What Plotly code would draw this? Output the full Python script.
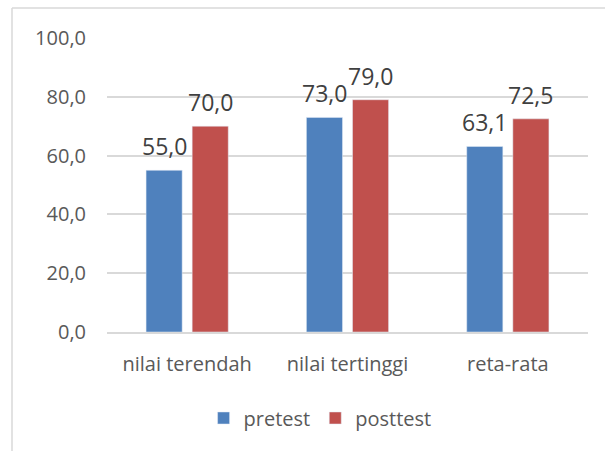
import plotly.graph_objects as go

categories = ["nilai terendah", "nilai tertinggi", "reta-rata"]
pretest = [55.0, 73.0, 63.1]
posttest = [70.0, 79.0, 72.5]
series_names = ["pretest", "posttest"]
y_ticks = [0, 20, 40, 60, 80, 100]

blue = "#4F81BD"
red = "#C0504D"
font_family = "Open Sans, Noto Sans, sans-serif"

fig = go.Figure()
fig.add_trace(go.Bar(name=series_names[0], x=categories, y=pretest, marker_color=blue))
fig.add_trace(go.Bar(name=series_names[1], x=categories, y=posttest, marker_color=red))

def fmt(v):
    return f"{v:.1f}".replace(".", ",")

annotations = []
for vals, shift in ((pretest, -23), (posttest, 23)):
    for c, v in zip(categories, vals):
        annotations.append(dict(
            x=c, y=v, xref="x", yref="y", text=fmt(v), showarrow=False,
            xshift=shift, yanchor="bottom", yshift=6,
            font=dict(size=23, color="#404040", family=font_family),
        ))

border = dict(color="#d9d9d9", width=1.5)

fig.update_layout(
    width=605, height=451,
    margin=dict(l=107, r=17, t=38, b=119),
    paper_bgcolor="white", plot_bgcolor="white",
    barmode="group", bargap=0.425, bargroupgap=0.217,
    separators=",.",
    font=dict(family=font_family, size=20, color="#595959"),
    annotations=annotations,
    showlegend=True,
    legend=dict(orientation="h", x=0.443, xanchor="center", y=-0.2925, yanchor="middle",
                font=dict(size=20, color="#595959"), traceorder="normal", itemwidth=30),
    xaxis=dict(showline=True, linecolor="#d9d9d9", linewidth=1.5, ticks="",
               ticklabelstandoff=13,
               tickfont=dict(size=20, color="#595959")),
    yaxis=dict(range=[0, 100], tickvals=y_ticks, tickformat=".1f",
               showgrid=True, gridcolor="#d9d9d9", gridwidth=1.5,
               zeroline=False, showline=False, ticks="",
               ticklabelstandoff=20,
               tickfont=dict(size=20, color="#595959")),
    shapes=[
        dict(type="line", xref="paper", yref="paper", x0=-0.1975, x1=1.5, y0=1.102, y1=1.102,
             line=border, layer="below"),
        dict(type="line", xref="paper", yref="paper", x0=-0.1975, x1=-0.1975, y0=-0.6, y1=1.102,
             line=border, layer="below"),
    ],
)

fig.write_html(
    "out.html",
    config={"displayModeBar": False},
    post_script="document.body.style.margin='0';document.body.style.overflow='hidden';",
)
